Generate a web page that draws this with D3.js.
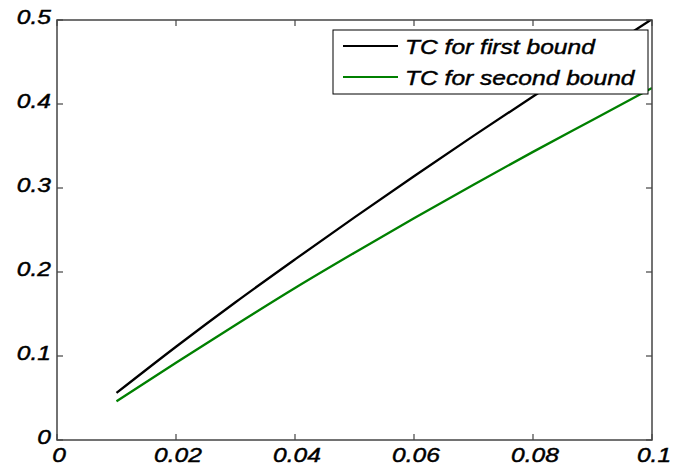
<!DOCTYPE html>
<html>
<head>
<meta charset="utf-8">
<script src="https://cdn.jsdelivr.net/npm/d3@7"></script>
<style>
  body { margin: 0; background: #fff; }
  text { font-family: "Liberation Sans", Arial, sans-serif; font-style: italic; stroke: #000; stroke-width: 0.45px; }
</style>
</head>
<body>
<div id="chart"></div>
<script>
// values
const xValues = [0.01, 0.02, 0.03, 0.04, 0.05, 0.06, 0.07, 0.08, 0.09, 0.1];
const firstBound = [0.056, 0.111, 0.164, 0.215, 0.265, 0.314, 0.362, 0.409, 0.455, 0.501];
const secondBound = [0.046, 0.092, 0.137, 0.181, 0.223, 0.264, 0.304, 0.343, 0.381, 0.419];
const xTicks = [0, 0.02, 0.04, 0.06, 0.08, 0.1];
const yTicks = [0, 0.1, 0.2, 0.3, 0.4, 0.5];
const seriesNames = ["TC for first bound", "TC for second bound"];
const seriesColors = ["#000000", "#008000"];

const width = 683, height = 466;
const margin = { top: 20, right: 31, bottom: 26, left: 57 };
const stretch = 1.17; // glyphs in the picture are wider than Liberation Sans

const svg = d3.select("#chart").append("svg")
    .attr("width", width)
    .attr("height", height);

const x = d3.scaleLinear().domain([0, 0.1]).range([margin.left, width - margin.right]);
const y = d3.scaleLinear().domain([0, 0.5]).range([height - margin.bottom, margin.top]);

svg.append("clipPath").attr("id", "plot")
    .append("rect")
    .attr("x", x(0)).attr("y", y(0.5))
    .attr("width", x(0.1) - x(0)).attr("height", y(0) - y(0.5));

const fmt = d => d === 0 ? "0" : String(+d.toFixed(2));

// ticks pointing inward on every side
const tickLen = 6;
const axisColor = "#444";
const g = svg.append("g");
xTicks.forEach(t => {
    g.append("line").attr("x1", x(t)).attr("x2", x(t)).attr("y1", y(0)).attr("y2", y(0) - tickLen);
    g.append("line").attr("x1", x(t)).attr("x2", x(t)).attr("y1", y(0.5)).attr("y2", y(0.5) + tickLen);
});
yTicks.forEach(t => {
    g.append("line").attr("x1", x(0)).attr("x2", x(0) + tickLen).attr("y1", y(t)).attr("y2", y(t));
    g.append("line").attr("x1", x(0.1)).attr("x2", x(0.1) - tickLen).attr("y1", y(t)).attr("y2", y(t));
});
g.selectAll("line").attr("stroke", axisColor).attr("stroke-width", 1.2);

const line = d3.line().curve(d3.curveMonotoneX).x(d => x(d[0])).y(d => y(d[1]));
const series = [firstBound, secondBound];
series.forEach((vals, i) => {
    svg.append("path")
        .datum(xValues.map((xv, j) => [xv, vals[j]]))
        .attr("clip-path", "url(#plot)")
        .attr("fill", "none")
        .attr("stroke", seriesColors[i])
        .attr("stroke-width", 2.3)
        .attr("d", line);
});

svg.append("rect")
    .attr("x", x(0)).attr("y", y(0.5))
    .attr("width", x(0.1) - x(0)).attr("height", y(0) - y(0.5))
    .attr("fill", "none").attr("stroke", axisColor).attr("stroke-width", 1.5);

const labels = svg.append("g").attr("font-size", 21).attr("fill", "#000");
xTicks.forEach(t => {
    labels.append("text")
        .attr("x", x(t) + 2).attr("y", height - 4)
        .attr("text-anchor", "middle")
        .text(fmt(t));
});
yTicks.forEach(t => {
    labels.append("text")
        .attr("x", x(0) - 6).attr("y", y(t) + 4)
        .attr("text-anchor", "end")
        .text(fmt(t));
});

// legend
const legend = svg.append("g");
legend.append("rect")
    .attr("x", 333).attr("y", 30).attr("width", 315).attr("height", 64)
    .attr("fill", "#fff").attr("stroke", "#000").attr("stroke-width", 1);
seriesNames.forEach((name, i) => {
    const ly = 46 + i * 31;
    legend.append("line")
        .attr("x1", 343).attr("x2", 398).attr("y1", ly).attr("y2", ly)
        .attr("stroke", seriesColors[i]).attr("stroke-width", 2);
    legend.append("text")
        .attr("x", 405).attr("y", ly + 8)
        .attr("font-size", 21)
        .text(name);
});

// widen glyphs to match the picture
svg.selectAll("text").each(function () {
    const w = this.getComputedTextLength();
    d3.select(this).attr("textLength", w * stretch).attr("lengthAdjust", "spacingAndGlyphs");
});
</script>
</body>
</html>
